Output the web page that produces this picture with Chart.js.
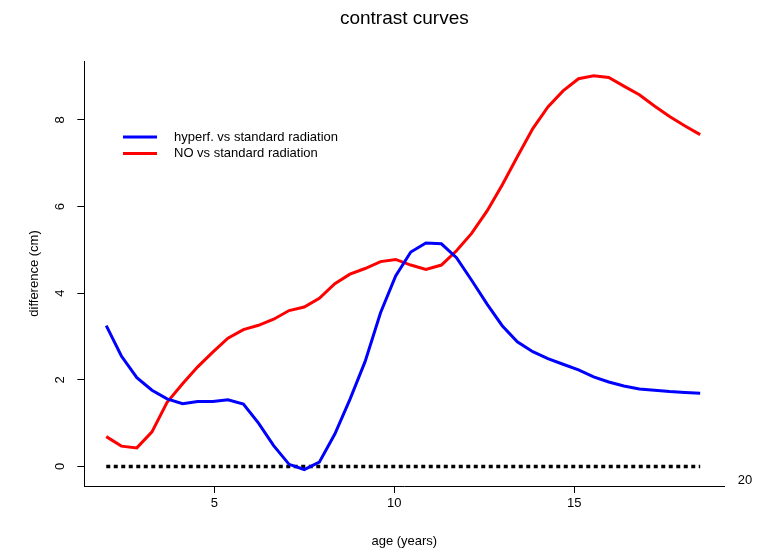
<!DOCTYPE html>
<html>
<head>
<meta charset="utf-8">
<script src="https://cdn.jsdelivr.net/npm/chart.js@4"></script>
<style>
  html, body { margin: 0; padding: 0; background: #fff; }
  #wrap { width: 762px; height: 550px; }
</style>
</head>
<body>
<div id="wrap"><canvas id="contrast"></canvas></div>
<script>
const ages = [2.00, 2.42, 2.85, 3.27, 3.69, 4.12, 4.54, 4.96, 5.38, 5.81,
  6.23, 6.65, 7.08, 7.50, 7.92, 8.35, 8.77, 9.19, 9.62, 10.04,
  10.46, 10.88, 11.31, 11.73, 12.15, 12.58, 13.00, 13.42, 13.85, 14.27,
  14.69, 15.12, 15.54, 15.96, 16.38, 16.81, 17.23, 17.65, 18.08, 18.50];

const hyperfDiff = [3.25, 2.55, 2.05, 1.76, 1.56, 1.45, 1.50, 1.50, 1.54, 1.44,
  1.00, 0.48, 0.05, -0.07, 0.10, 0.75, 1.55, 2.42, 3.55, 4.40,
  4.95, 5.16, 5.14, 4.82, 4.30, 3.75, 3.25, 2.88, 2.65, 2.49,
  2.36, 2.23, 2.07, 1.95, 1.86, 1.79, 1.76, 1.73, 1.71, 1.69];

const noDiff = [0.69, 0.47, 0.43, 0.80, 1.48, 1.91, 2.30, 2.64, 2.96, 3.16,
  3.26, 3.40, 3.60, 3.68, 3.88, 4.22, 4.44, 4.57, 4.73, 4.78,
  4.65, 4.55, 4.65, 4.98, 5.38, 5.90, 6.50, 7.15, 7.80, 8.30,
  8.67, 8.95, 9.02, 8.98, 8.78, 8.58, 8.32, 8.08, 7.86, 7.66];

const seriesNames = ["hyperf. vs standard radiation", "NO vs standard radiation"];
const seriesColors = ["#0000ff", "#ff0000"];

const xTicks = [5, 10, 15];
const yTicks = [0, 2, 4, 6, 8];

const FONT = "'Liberation Sans', Arial, Helvetica, sans-serif";

const toPoints = (ys) => ages.map((a, i) => ({ x: a, y: ys[i] }));

// title centred over the plot, legend inside it, and the stray "20" past the axis end
const extras = {
  id: "extras",
  afterDraw(chart) {
    const ctx = chart.ctx;
    const area = chart.chartArea;
    ctx.save();
    ctx.fillStyle = "#000";
    ctx.textAlign = "center";
    ctx.textBaseline = "middle";
    ctx.font = "19px " + FONT;
    ctx.fillText("contrast curves", (area.left + area.right) / 2, 18.5);

    ctx.font = "13px " + FONT;
    ctx.textAlign = "left";
    [0, 1].forEach((i) => {
      const y = 137 + i * 16.5;
      ctx.strokeStyle = chart.data.datasets[i].borderColor;
      ctx.lineWidth = 3;
      ctx.beginPath();
      ctx.moveTo(123, y);
      ctx.lineTo(157, y);
      ctx.stroke();
      ctx.fillText(chart.data.datasets[i].label, 174, y);
    });
    ctx.textAlign = "center";
    ctx.fillText("20", 745, 480);
    ctx.restore();
  },
};

new Chart(document.getElementById("contrast"), {
  type: "line",
  data: {
    datasets: [
      {
        label: seriesNames[0],
        data: toPoints(hyperfDiff),
        borderColor: seriesColors[0],
        borderWidth: 3,
        pointRadius: 0,
        tension: 0,
      },
      {
        label: seriesNames[1],
        data: toPoints(noDiff),
        borderColor: seriesColors[1],
        borderWidth: 3,
        pointRadius: 0,
        tension: 0,
      },
      {
        label: "zero",
        data: [{ x: ages[0], y: 0 }, { x: ages[ages.length - 1], y: 0 }],
        borderColor: "#000",
        borderWidth: 3.3,
        borderDash: [4, 3.5],
        pointRadius: 0,
      },
    ],
  },
  options: {
    responsive: true,
    maintainAspectRatio: false,
    animation: false,
    layout: { padding: { left: 0, right: 37.7, top: 61, bottom: 0 } },
    plugins: {
      legend: { display: false },
      tooltip: { enabled: false },
      title: { display: false },
    },
    scales: {
      x: {
        type: "linear",
        min: 1.39,
        max: 19.17,
        afterBuildTicks: (s) => { s.ticks = xTicks.map((v) => ({ value: v })); },
        afterFit: (s) => { s.height = 64; },
        border: { display: true, color: "#000", width: 1 },
        grid: { drawOnChartArea: false, drawTicks: true, tickLength: 7, color: "#000" },
        ticks: { color: "#000", font: { family: FONT, size: 13 }, padding: 3, maxRotation: 0 },
        title: {
          display: true,
          text: "age (years)",
          color: "#000",
          font: { family: FONT, size: 13 },
          padding: { top: 0, bottom: 0.5 },
        },
      },
      y: {
        type: "linear",
        min: -0.45,
        max: 9.36,
        afterBuildTicks: (s) => { s.ticks = yTicks.map((v) => ({ value: v })); },
        afterFit: (s) => { s.width = 84.3; },
        border: { display: true, color: "#000", width: 1 },
        grid: { drawOnChartArea: false, drawTicks: true, tickLength: 7, color: "#000" },
        ticks: {
          color: "#000",
          font: { family: FONT, size: 13 },
          padding: 13,
          minRotation: 90,
          maxRotation: 90,
          crossAlign: "center",
        },
        title: {
          display: true,
          text: "difference (cm)",
          color: "#000",
          font: { family: FONT, size: 13 },
          padding: { top: 27, bottom: 0 },
        },
      },
    },
  },
  plugins: [extras],
});
</script>
</body>
</html>
